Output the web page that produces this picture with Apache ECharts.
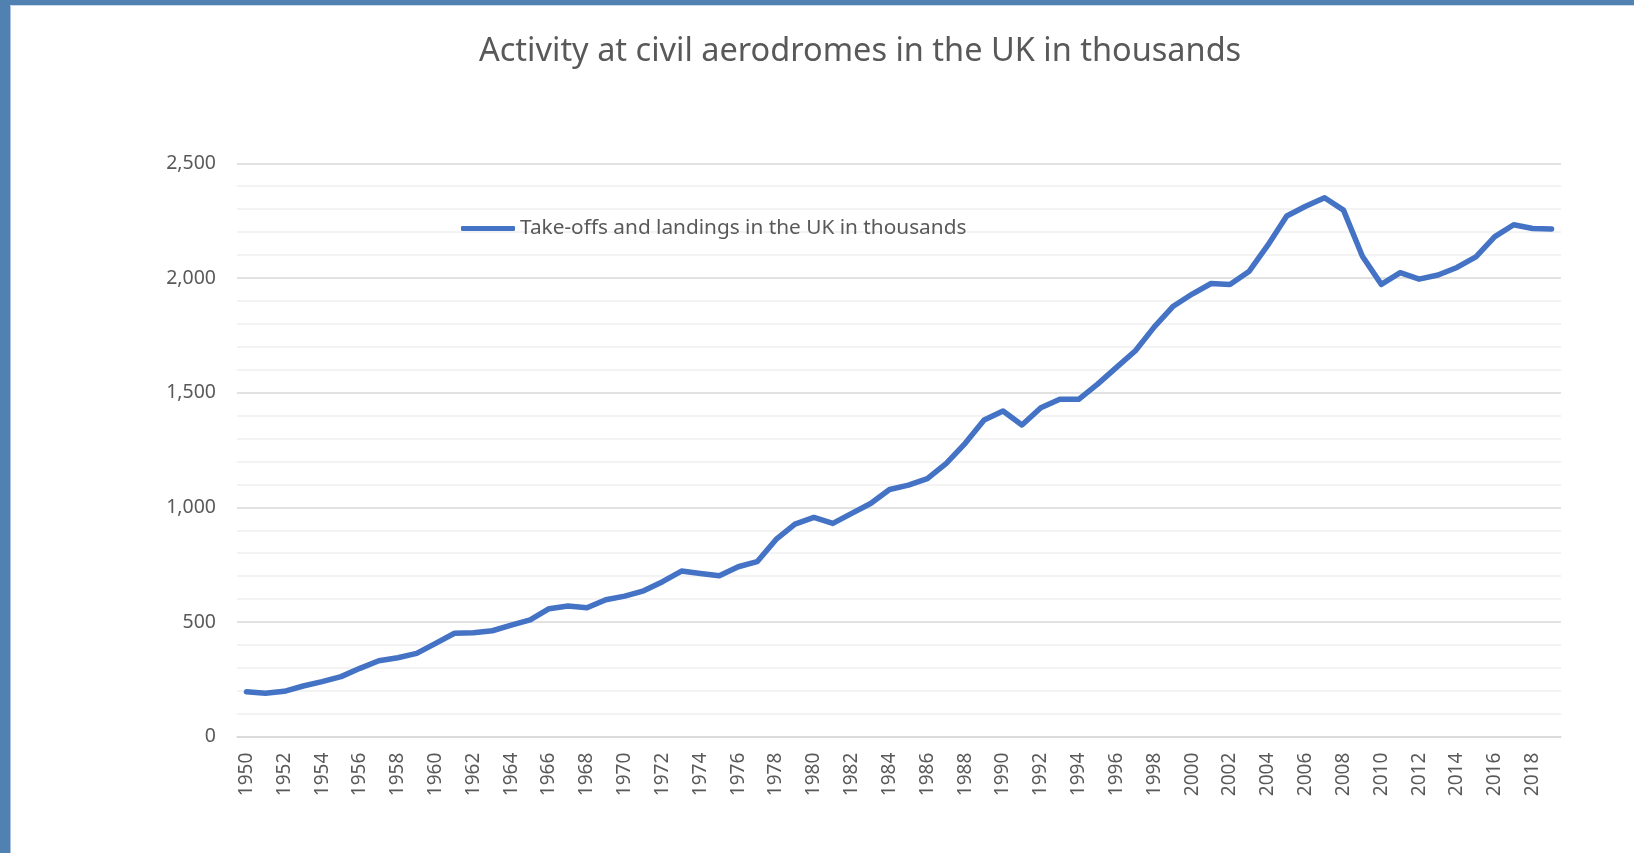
<!DOCTYPE html>
<html>
<head>
<meta charset="utf-8">
<script src="https://cdn.jsdelivr.net/npm/echarts@6/dist/echarts.min.js"></script>
<style>
html,body{margin:0;padding:0;background:#fff;}
#chart{width:1634px;height:853px;}
</style>
</head>
<body>
<div id="chart"></div>
<script>
const titleText = 'Activity at civil aerodromes in the UK in thousands';
const seriesName = 'Take-offs and landings in the UK in thousands';
const years = [];
for (let y = 1950; y <= 2019; y++) years.push(String(y));
const movements = [
  196, 189, 198, 221, 240, 262, 298, 331, 344, 363,
  407, 451, 453, 462, 486, 509, 558, 570, 562, 597,
  613, 636, 676, 722, 712, 702, 741, 763, 860, 927,
  956, 930, 974, 1017, 1078, 1097, 1125, 1192, 1279, 1381,
  1420, 1359, 1434, 1471, 1471, 1537, 1610, 1683, 1787, 1877,
  1930, 1976, 1972, 2028, 2143, 2270, 2313, 2350, 2296, 2095,
  1972, 2023, 1995, 2013, 2046, 2092, 2180, 2232, 2216, 2214
];
const yTicks = [0, 500, 1000, 1500, 2000, 2500];

const chart = echarts.init(document.getElementById('chart'), null, {renderer: 'canvas'});
const fontFam = '"Noto Sans", "Open Sans", sans-serif';
chart.setOption({
  backgroundColor: '#ffffff',
  animation: false,
  title: {
    text: titleText,
    left: 474,
    top: 30,
    textStyle: {fontFamily: fontFam, fontSize: 32.5, fontWeight: 'normal', color: '#595959'}
  },
  legend: {
    show: true,
    orient: 'horizontal',
    left: 456,
    top: 213,
    icon: 'roundRect',
    itemWidth: 54,
    itemHeight: 5,
    textStyle: {fontFamily: fontFam, fontSize: 20.8, color: '#595959'},
    data: [seriesName]
  },
  grid: {left: 237, right: 73, top: 163.3, bottom: 116.3, containLabel: false},
  xAxis: {
    type: 'category',
    data: years,
    boundaryGap: true,
    axisLine: {lineStyle: {color: '#d9d9d9', width: 1.5}},
    axisTick: {show: false},
    axisLabel: {
      interval: 1,
      rotate: 90,
      margin: 16,
      fontFamily: fontFam,
      fontSize: 19,
      color: '#595959'
    },
    splitLine: {show: false}
  },
  yAxis: {
    type: 'value',
    min: yTicks[0],
    max: yTicks[yTicks.length - 1],
    interval: 500,
    axisLine: {show: false},
    axisTick: {show: false},
    axisLabel: {
      margin: 21,
      fontFamily: fontFam,
      fontSize: 19.5,
      color: '#595959',
      formatter: v => v.toLocaleString('en-US')
    },
    splitLine: {lineStyle: {color: '#d9d9d9', width: 1.5}},
    minorTick: {show: false, splitNumber: 5},
    minorSplitLine: {show: true, lineStyle: {color: '#efefef', width: 1.5}}
  },
  series: [{
    name: seriesName,
    type: 'line',
    data: movements,
    symbol: 'none',
    showSymbol: false,
    lineStyle: {color: '#4472C4', width: 5.5, cap: 'round', join: 'round'},
    itemStyle: {color: '#4472C4'}
  }],
  graphic: [
    {type: 'rect', left: 0, top: 0, shape: {width: 1634, height: 5}, style: {fill: '#5081B0'}, z: 100},
    {type: 'rect', left: 0, top: 0, shape: {width: 10, height: 853}, style: {fill: '#5081B0'}, z: 100},
    {type: 'rect', left: 10, top: 5, shape: {width: 1, height: 848}, style: {fill: '#a9c1dc'}, z: 100},
    {type: 'rect', left: 10, top: 5, shape: {width: 1624, height: 1}, style: {fill: '#c9d9ea'}, z: 100}
  ]
});
</script>
</body>
</html>
